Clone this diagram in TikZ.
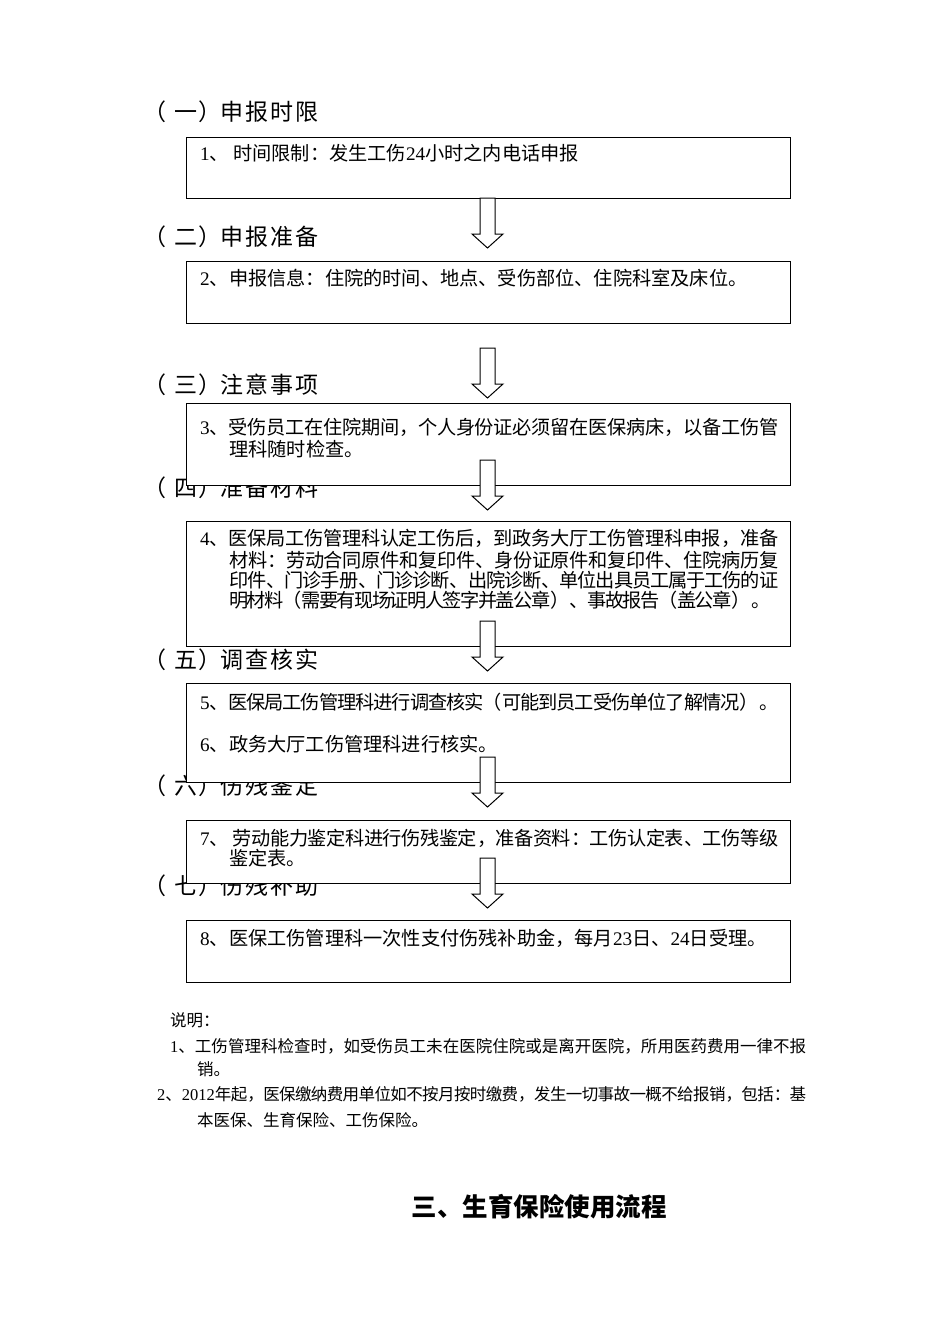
\documentclass[tikz,border=0pt]{standalone}
\usepackage{fontspec}
\setmainfont{Noto Sans CJK SC}
\newfontfamily\lat{Liberation Serif}
\newcommand\hsp[1]{\ifx#1\relax\else#1\kern2pt\expandafter\hsp\fi}
\newcommand\hdg[2]{（\kern8pt #1\kern1pt ）\kern-1pt\hsp#2\relax}
\newcommand\jl[2]{\parbox{#1pt}{\XeTeXlinebreaklocale "zh"\XeTeXlinebreakskip=0pt plus 8pt minus 2pt\relax\parfillskip=0pt\noindent #2}}
\tikzset{
  box/.style={draw, line width=1pt, fill=white, minimum width=604pt, inner sep=0pt},
  btxt/.style={anchor=west, inner sep=0pt, font=\fontsize{19.2}{21}\selectfont},
  head/.style={anchor=west, inner sep=0pt, font=\fontsize{23}{26}\selectfont},
  note/.style={anchor=west, inner sep=0pt, font=\fontsize{16.5}{18}\selectfont},
  blockarrow/.pic={\draw[line width=1pt, fill=white] (-7.5,0) -- (-7.5,36) -- (-15.5,36) -- (0,50) -- (15.5,36) -- (7.5,36) -- (7.5,0) -- cycle;}
}
\begin{document}
\begin{tikzpicture}[x=1pt,y=-1pt]
\useasboundingbox (0,0) rectangle (950,1344);
\fill[white] (0,0) rectangle (950,1344);
% headings
\node[head] (h1) at (143,112) {\hdg{一}{申报时限}};
\node[head] (h2) at (143,237) {\hdg{二}{申报准备}};
\node[head] (h3) at (143,385) {\hdg{三}{注意事项}};
\node[head] (h4) at (143,488) {\hdg{四}{准备材料}};
\node[head] (h5) at (143,660) {\hdg{五}{调查核实}};
\node[head] (h6) at (143,786) {\hdg{六}{伤残鉴定}};
\node[head] (h7) at (143,886) {\hdg{七}{伤残补助}};
% boxes
\node[box, minimum height=61pt] (b1) at (488,167.5) {};
\node[box, minimum height=62pt] (b2) at (488,292) {};
\node[box, minimum height=82pt] (b3) at (488,444) {};
\node[box, minimum height=125pt] (b4) at (488,583.5) {};
\node[box, minimum height=99pt] (b5) at (488,732.5) {};
\node[box, minimum height=63pt] (b6) at (488,851.5) {};
\node[box, minimum height=62pt] (b7) at (488,951) {};
% box texts
\node[btxt] (t1) at (200,153) {{\lat 1}、 时间限制：发生工伤{\lat 24}小时之内电话申报};
\node[btxt] (t2) at (200,278) {{\lat 2}、申报信息：住院的时间、地点、受伤部位、住院科室及床位。};
\node[btxt] (t3a) at (200,427) {\jl{578}{{\lat 3}、受伤员工在住院期间，个人身份证必须留在医保病床，以备工伤管}};
\node[btxt] (t3b) at (229,449) {理科随时检查。};
\node[btxt] (t4a) at (200,538) {\jl{578}{{\lat 4}、医保局工伤管理科认定工伤后，到政务大厅工伤管理科申报，准备}};
\node[btxt] (t4b) at (229,560) {\jl{549}{材料：劳动合同原件和复印件、身份证原件和复印件、住院病历复}};
\node[btxt] (t4c) at (229,580) {\jl{549}{印件、门诊手册、门诊诊断、出院诊断、单位出具员工属于工伤的证}};
\node[btxt] (t4d) at (229,600) {\jl{541}{明材料（需要有现场证明人签字并盖公章）、事故报告（盖公章）。}};
\node[btxt] (t5a) at (200,702) {\jl{578}{{\lat 5}、医保局工伤管理科进行调查核实（可能到员工受伤单位了解情况）。}};
\node[btxt] (t5b) at (200,744) {{\lat 6}、政务大厅工伤管理科进行核实。};
\node[btxt] (t6a) at (200,838) {\jl{578}{{\lat 7}、 劳动能力鉴定科进行伤残鉴定，准备资料：工伤认定表、工伤等级}};
\node[btxt] (t6b) at (229,858) {鉴定表。};
\node[btxt] (t7) at (200,938) {{\lat 8}、医保工伤管理科一次性支付伤残补助金，每月{\lat 23}日、{\lat 24}日受理。};
% arrows
\coordinate (a1) at (487.5,198);
\coordinate (a2) at (487.5,348);
\coordinate (a3) at (487.5,460);
\coordinate (a4) at (487.5,621);
\coordinate (a5) at (487.5,757);
\coordinate (a6) at (487.5,858);
\foreach \a in {a1,a2,a3,a4,a5,a6} \pic at (\a) {blockarrow};
% notes
\node[note] (n0) at (170,1020) {说明：};
\node[note] (n1a) at (170,1046) {\jl{636}{{\lat 1}、工伤管理科检查时，如受伤员工未在医院住院或是离开医院，所用医药费用一律不报}};
\node[note] (n1b) at (197,1069) {销。};
\node[note] (n2a) at (157,1094) {\jl{649}{{\lat 2}、{\lat 2012}年起，医保缴纳费用单位如不按月按时缴费，发生一切事故一概不给报销，包括：基}};
\node[note] (n2b) at (197,1120) {本医保、生育保险、工伤保险。};
% title
\node[font=\fontsize{25.5}{28}\selectfont\bfseries, inner sep=0pt] (title) at (539,1207) {三、生育保险使用流程};
\end{tikzpicture}
\end{document}
